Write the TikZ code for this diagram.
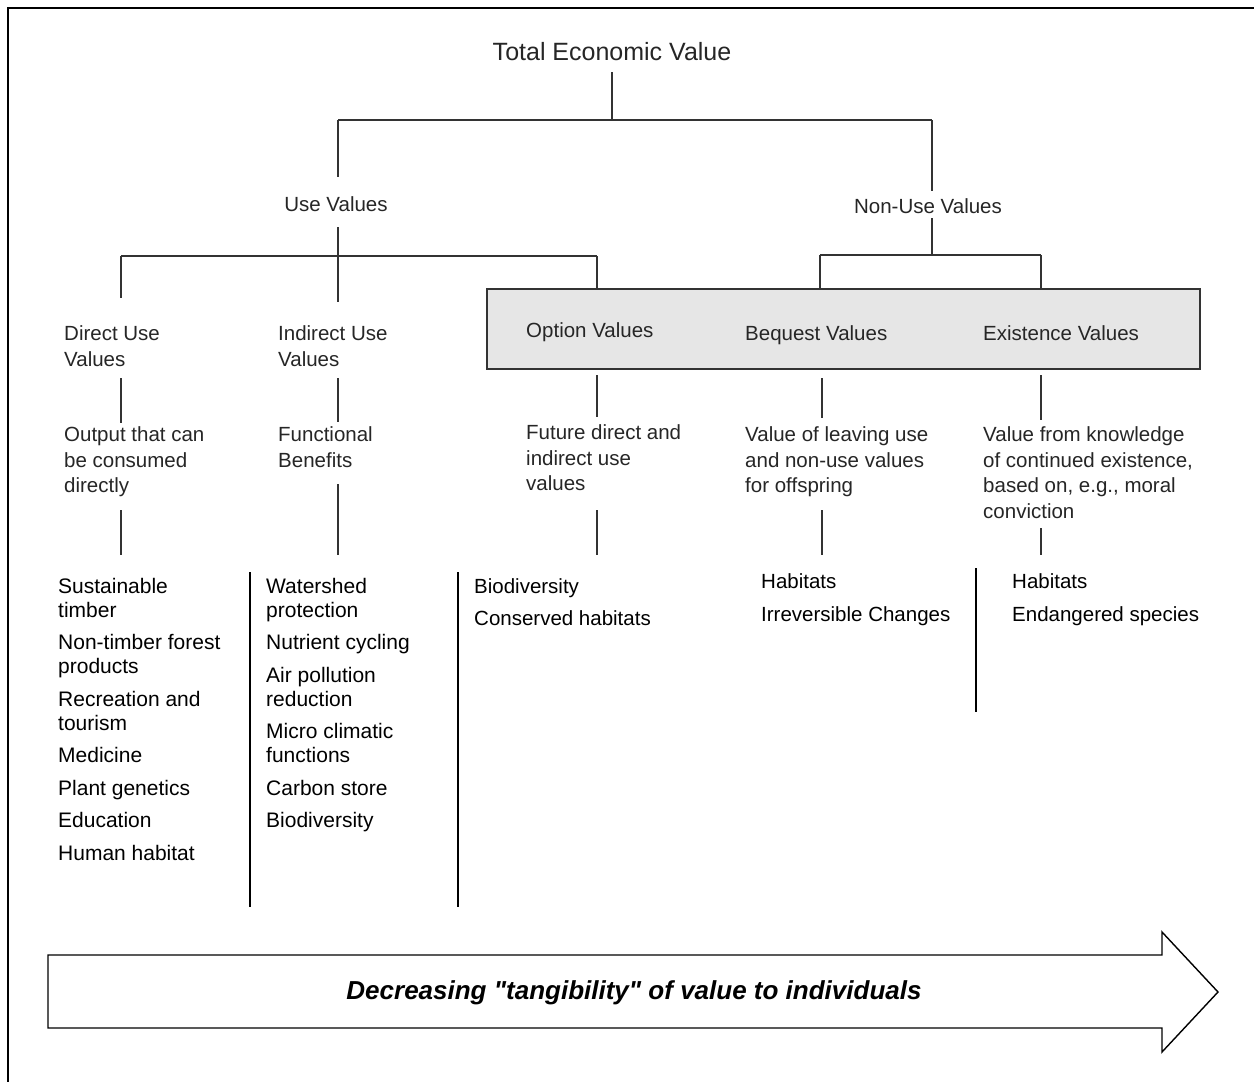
\documentclass[tikz,border=0pt]{standalone}
\usepackage{fontspec}
\setmainfont{Liberation Sans}
\newfontfamily\arrowfont{Liberation Sans}[Ligatures=TeXOff]
\begin{document}
\begin{tikzpicture}[x=1pt,y=-1pt,
  head/.style={font=\fontsize{20.5}{25.5}\selectfont, inner sep=0pt, align=left, anchor=north west, text=black!85},
  headc/.style={font=\fontsize{20.5}{25.5}\selectfont, inner sep=0pt, text=black!85},
  item/.style={font=\fontsize{21}{24}\selectfont, inner sep=0pt, align=left, anchor=north west},
  itemn/.style={font=\fontsize{20.5}{24}\selectfont, inner sep=0pt, align=left, anchor=north west},
  ln/.style={line width=1.2pt, draw=black!80},
  sepline/.style={line width=1.8pt, draw=black},
  grayfill/.style={fill={rgb,255:red,230;green,230;blue,230}, draw=black!80, line width=1.5pt}]
\useasboundingbox (0,0) rectangle (1254,1082);
\fill[white] (0,0) rectangle (1254,1082);
% frame
\draw[line width=2pt] (8,1090) -- (8,8) -- (1262,8);

% grey box
\draw[grayfill] (487,289) rectangle (1200,369);

% nodes level 0/1
\node[font=\fontsize{25}{30}\selectfont, inner sep=0pt, text=black!85] (tev) at (612,52) {Total Economic Value};
\node[headc] (use) at (336,204) {Use Values};
\node[headc] (nonuse) at (928,206) {Non-Use Values};

% level 2
\node[head] (direct) at (64,325.5) {Direct Use\\Values};
\node[head] (indirect) at (278,325.5) {Indirect Use\\Values};
\node[head] (option) at (526,322.5) {Option Values};
\node[head] (bequest) at (745,325.5) {Bequest Values};
\node[head] (existence) at (983,325.5) {Existence Values};

% level 3
\node[head] (output) at (64,426.5) {Output that can\\be consumed\\directly};
\node[head] (functional) at (278,426.5) {Functional\\Benefits};
\node[head] (future) at (526,424.5) {Future direct and\\indirect use\\values};
\node[head] (leaving) at (745,426.5) {Value of leaving use\\and non-use values\\for offspring};
\node[head] (knowledge) at (983,426.5) {Value from knowledge\\of continued existence,\\based on, e.g., moral\\conviction};

% lists
\node[item] (list1) at (58,578) {Sustainable\\timber\\[8.5pt]Non-timber forest\\products\\[8.5pt]Recreation and\\tourism\\[8.5pt]Medicine\\[8.5pt]Plant genetics\\[8.5pt]Education\\[8.5pt]Human habitat};
\node[item] (list2) at (266,578) {Watershed\\protection\\[8.5pt]Nutrient cycling\\[8.5pt]Air pollution\\reduction\\[8.5pt]Micro climatic\\functions\\[8.5pt]Carbon store\\[8.5pt]Biodiversity};
\node[itemn] (list3) at (474,578) {Biodiversity\\[8pt]Conserved habitats};
\node[itemn] (list4) at (761,573) {Habitats\\[9pt]Irreversible Changes};
\node[itemn] (list5) at (1012,573) {Habitats\\[9pt]Endangered species};

% junction coordinates
\coordinate (j0) at (612,120);
\coordinate (jl) at (338,120);
\coordinate (jr) at (932,120);
\coordinate (ju) at (338,256);
\coordinate (jul) at (121,256);
\coordinate (jur) at (597,256);
\coordinate (jn) at (932,255);
\coordinate (jnl) at (820,255);
\coordinate (jnr) at (1041,255);

% tree connectors
\draw[ln] (612,72) -- (j0);
\draw[ln] (jl) -- (jr);
\draw[ln] (jl) -- (338,177);
\draw[ln] (338,227) -- (ju) -- (338,302);
\draw[ln] (jul) -- (jur);
\draw[ln] (jul) -- (121,298);
\draw[ln] (jur) -- (597,289);
\draw[ln] (jr) -- (932,191);
\draw[ln] (932,218) -- (jn);
\draw[ln] (jnl) -- (jnr);
\draw[ln] (jnl) -- (820,289);
\draw[ln] (jnr) -- (1041,289);

% level 2 -> 3 -> lists
\draw[ln] (121,378) -- (121,423);
\draw[ln] (121,510) -- (121,555);
\draw[ln] (338,378) -- (338,422);
\draw[ln] (338,484) -- (338,555);
\draw[ln] (597,375) -- (597,417);
\draw[ln] (597,510) -- (597,555);
\draw[ln] (822,378) -- (822,418);
\draw[ln] (822,510) -- (822,555);
\draw[ln] (1041,375) -- (1041,420);
\draw[ln] (1041,528) -- (1041,555);

% separators
\draw[sepline] (250,572) -- (250,907);
\draw[sepline] (458,572) -- (458,907);
\draw[sepline] (976,568) -- (976,712);

% big arrow
\draw[line width=1.4pt, fill=white] (48,955) -- (1162,955) -- (1162,932) -- (1218,992) -- (1162,1052) -- (1162,1028) -- (48,1028) -- cycle;
\node[font=\arrowfont\fontsize{26}{30}\selectfont\bfseries\itshape, inner sep=0pt] (arrowtext) at (634,993) {Decreasing "tangibility" of value to individuals};
\end{tikzpicture}
\end{document}
